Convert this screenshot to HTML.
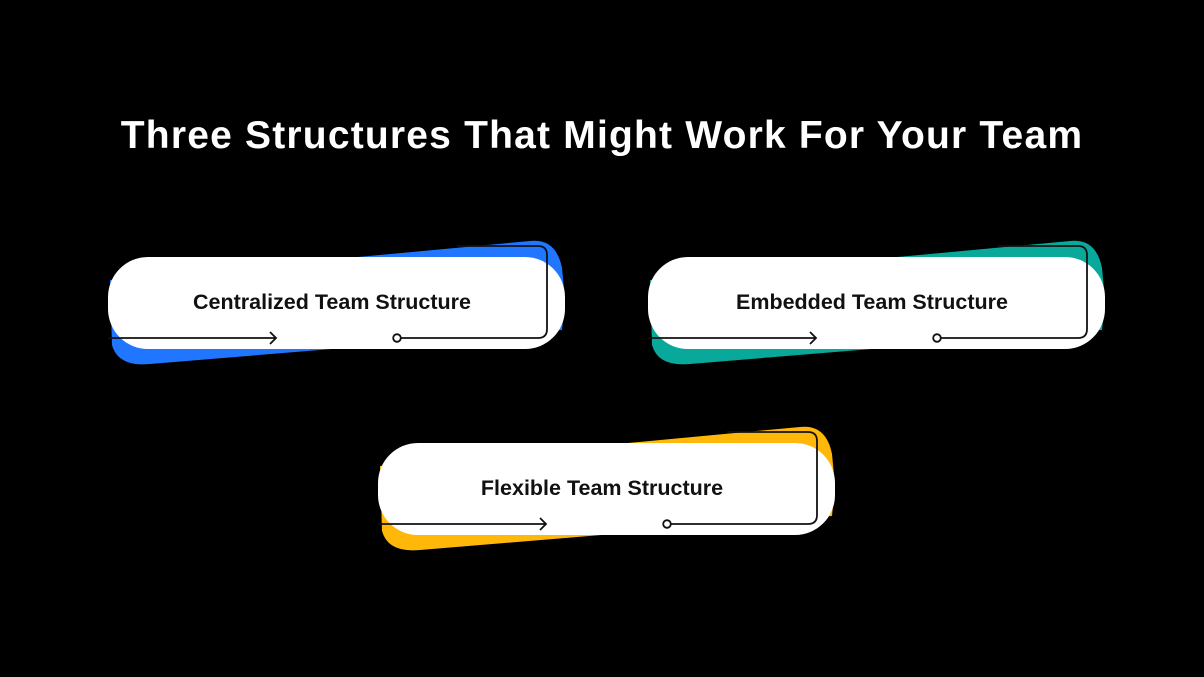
<!DOCTYPE html>
<html><head><meta charset="utf-8"><style>
body{margin:0;width:1204px;height:677px;background:#000;overflow:hidden;font-family:"Liberation Sans",sans-serif}
h1{position:absolute;top:114px;left:0;width:1204px;text-align:center;margin:0;color:#fff;font-size:39px;font-weight:bold;letter-spacing:1.2px;line-height:44px}
svg{position:absolute;left:0;top:0}
</style></head><body>
<h1>Three Structures That Might Work For Your Team</h1>
<svg width="1204" height="677">
<defs>
<g id="card">
<path d="M110 280 L530 241 Q556 238 562 268 L565 300 L562 330 L150 364 Q118 367 112 345 Z" fill="var(--c)"/>
<rect x="108" y="257" width="457" height="92" rx="40" fill="#fff"/>
<path d="M108 338 H276 M270 332 L276 338 L270 344" fill="none" stroke="#111" stroke-width="1.8"/>
<circle cx="397" cy="338" r="3.8" fill="#fff" stroke="#111" stroke-width="1.8"/>
<path d="M401 338 H538 Q547 338 547 329 V255 Q547 246 538 246 H457" fill="none" stroke="#111" stroke-width="1.8"/>
</g>
</defs>
<use href="#card" style="--c:#2176ff"/>
<use href="#card" transform="translate(540,0)" style="--c:#08a99a"/>
<use href="#card" transform="translate(270,186)" style="--c:#ffb80a"/>
<g font-family="Liberation Sans, sans-serif" font-weight="bold" font-size="21.5" fill="#111" text-anchor="middle">
<text x="332" y="309">Centralized Team Structure</text>
<text x="872" y="309">Embedded Team Structure</text>
<text x="602" y="495">Flexible Team Structure</text>
</g>
</svg>
</body></html>
